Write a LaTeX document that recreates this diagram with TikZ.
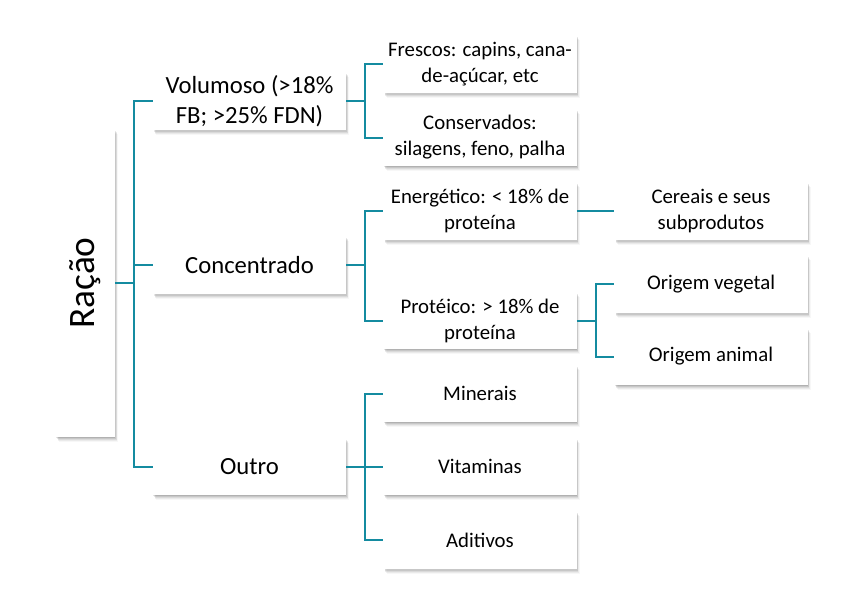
\documentclass[tikz,border=0pt]{standalone}
\usepackage{fontspec}
\setmainfont{Carlito}
\usetikzlibrary{shadows}

\definecolor{linkteal}{RGB}{20,139,160}

\tikzset{
  softshadow/.style={
    general shadow={shadow xshift=0.3pt, shadow yshift=-0.6pt, fill=black, opacity=0.10},
    general shadow={shadow xshift=0.8pt, shadow yshift=-1.4pt, fill=black, opacity=0.09},
    general shadow={shadow xshift=1.3pt, shadow yshift=-2.2pt, fill=black, opacity=0.07},
    general shadow={shadow xshift=1.8pt, shadow yshift=-3.0pt, fill=black, opacity=0.05},
    general shadow={shadow xshift=2.3pt, shadow yshift=-3.8pt, fill=black, opacity=0.03}},
  box/.style={fill=white, align=center, inner sep=2pt, softshadow,
    minimum width=144.75pt, minimum height=43pt},
  rootbox/.style={box, minimum width=44.25pt, minimum height=231pt,
    font=\fontsize{28}{32}\selectfont},
  lvlone/.style={box, font=\fontsize{18.5}{22.3}\selectfont},
  lvltwo/.style={box, font=\fontsize{15.6}{19.5}\selectfont},
  link/.style={draw=linkteal, line width=1.5pt},
}

\begin{document}
\begin{tikzpicture}[x=0.75pt, y=-0.75pt]
    \useasboundingbox (0,0) rectangle (863,612);

    \node[rootbox] (racao) at (85.5, 283) {\rotatebox{90}{Ração}};

    \node[lvlone] (volumoso) at (249.5, 101) {Volumoso (>18\%\\FB; >25\% FDN)};
    \node[lvlone] (concentrado) at (249.5, 265) {Concentrado};
    \node[lvlone] (outro) at (249.5, 466.5) {Outro};

    \node[lvltwo] (frescos) at (480, 64) {Frescos: capins, cana-\\de-açúcar, etc};
    \node[lvltwo] (conservados) at (480, 137.5) {Conservados:\\silagens, feno, palha};
    \node[lvltwo] (energetico) at (480, 211) {Energético: < 18\% de\\proteína};
    \node[lvltwo] (proteico) at (480, 320.5) {Protéico: > 18\% de\\proteína};
    \node[lvltwo] (minerais) at (480, 393.5) {Minerais};
    \node[lvltwo] (vitaminas) at (480, 466.5) {Vitaminas};
    \node[lvltwo] (aditivos) at (480, 540) {Aditivos};

    \node[lvltwo] (cereais) at (711, 211) {Cereais e seus\\subprodutos};
    \node[lvltwo] (vegetal) at (711, 284) {Origem vegetal};
    \node[lvltwo] (animal) at (711, 356.5) {Origem animal};

    % ligações da raiz
    \draw[link] (racao.east) -- ++(18.5,0) coordinate (jracao);
    \draw[link] (jracao) |- (volumoso.west);
    \draw[link] (jracao) |- (concentrado.west);
    \draw[link] (jracao) |- (outro.west);

    % ligações do volumoso
    \draw[link] (volumoso.east) -- ++(19,0) coordinate (jvol);
    \draw[link] (jvol) |- (frescos.west);
    \draw[link] (jvol) |- (conservados.west);

    % ligações do concentrado
    \draw[link] (concentrado.east) -- ++(19,0) coordinate (jconc);
    \draw[link] (jconc) |- (energetico.west);
    \draw[link] (jconc) |- (proteico.west);
    \draw[link] (energetico) -- (cereais);
    \draw[link] (proteico.east) -- ++(19.5,0) coordinate (jprot);
    \draw[link] (jprot) |- (vegetal.west);
    \draw[link] (jprot) |- (animal.west);

    % ligações do outro
    \draw[link] (outro.east) -- ++(19,0) coordinate (joutro);
    \draw[link] (joutro) |- (minerais.west);
    \draw[link] (joutro) |- (vitaminas.west);
    \draw[link] (joutro) |- (aditivos.west);
\end{tikzpicture}
\end{document}
